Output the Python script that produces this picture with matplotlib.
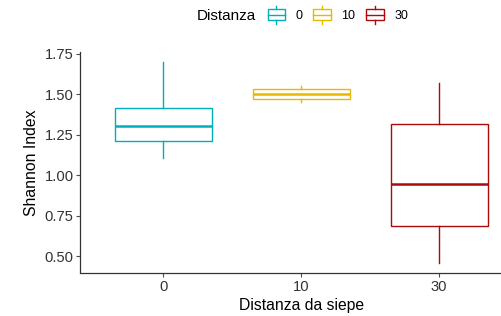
import numpy as np
import matplotlib
matplotlib.use("Agg")
import matplotlib.pyplot as plt
from matplotlib.legend_handler import HandlerBase
from matplotlib.patches import Rectangle
from matplotlib.lines import Line2D

# summary values
groups = ["0", "10", "30"]
whislo = [1.11, 1.455, 0.46]
q1 = [1.215, 1.47, 0.685]
med = [1.305, 1.505, 0.945]
q3 = [1.415, 1.535, 1.32]
whishi = [1.70, 1.55, 1.57]
colors = ["#00AFBB", "#E7B800", "#AA0A0A"]

plt.rcParams["font.family"] = ["Liberation Sans", "DejaVu Sans"]

fig = plt.figure(figsize=(5.02, 3.16), dpi=100)
ax = fig.add_axes([80.5 / 502, 43 / 316, 441.5 / 502, 221 / 316])

stats = []
for i, g in enumerate(groups):
    stats.append(dict(label=g, whislo=whislo[i], q1=q1[i], med=med[i],
                      q3=q3[i], whishi=whishi[i], fliers=[]))

pos = np.arange(1, len(groups) + 1)
bp = ax.bxp(stats, positions=pos, widths=0.7, showcaps=False,
            patch_artist=True, manage_ticks=False)
for i, c in enumerate(colors):
    bp["boxes"][i].set(facecolor="white", edgecolor=c, linewidth=1.0)
    bp["medians"][i].set(color=c, linewidth=1.8)
    for w in bp["whiskers"][2 * i:2 * i + 2]:
        w.set(color=c, linewidth=1.0)

ax.set_xlim(0.4, 3.6)
ax.set_ylim(0.398, 1.762)
ax.set_xticks(pos)
ax.set_xticklabels(groups)
ax.set_yticks([0.5, 0.75, 1.0, 1.25, 1.5, 1.75])
ax.set_yticklabels(["0.50", "0.75", "1.00", "1.25", "1.50", "1.75"])
ax.tick_params(labelsize=10.6, colors="#4D4D4D", length=3, width=0.8, pad=2)
ax.tick_params(axis="both", labelcolor="#333333")
for s in ["top", "right"]:
    ax.spines[s].set_visible(False)
for s in ["left", "bottom"]:
    ax.spines[s].set_linewidth(0.9)
    ax.spines[s].set_color("#333333")
ax.set_xlabel("Distanza da siepe", fontsize=11.3, labelpad=3)
ax.set_ylabel("Shannon Index", fontsize=11.3, labelpad=4)


class BoxKey(HandlerBase):
    # boxplot glyph: 11 px box, whiskers to 18 px total (in points at 100 dpi)
    def create_artists(self, legend, orig, xd, yd, w, h, fontsize, trans):
        c = orig.get_color()
        cy = yd + h / 2
        bh = 11 * 0.72
        wh = 18 * 0.72
        r = Rectangle((xd + 0.5, cy - bh / 2), w - 1, bh, facecolor="white",
                      edgecolor=c, linewidth=1.0, transform=trans)
        m = Line2D([xd + 0.5, xd + w - 0.5], [cy, cy], color=c,
                   linewidth=1.0, transform=trans)
        t = Line2D([xd + w / 2] * 2, [cy + bh / 2, cy + wh / 2], color=c,
                   linewidth=1.0, transform=trans)
        b = Line2D([xd + w / 2] * 2, [cy - wh / 2, cy - bh / 2], color=c,
                   linewidth=1.0, transform=trans)
        return [r, m, t, b]


handles = [Line2D([], [], color=c) for c in colors]
fig.text(226 / 502, 1 - 16 / 316, "Distanza", fontsize=11, ha="center", va="center")
fig.legend(handles, groups, loc="center left", bbox_to_anchor=(267 / 502, 1 - 16 / 316),
           ncol=3, frameon=False, fontsize=9, handlelength=1.5, handleheight=0.7,
           handletextpad=0.8, columnspacing=0.8, borderpad=0, borderaxespad=0,
           handler_map={Line2D: BoxKey()})

fig.savefig("out.png", dpi=100)
